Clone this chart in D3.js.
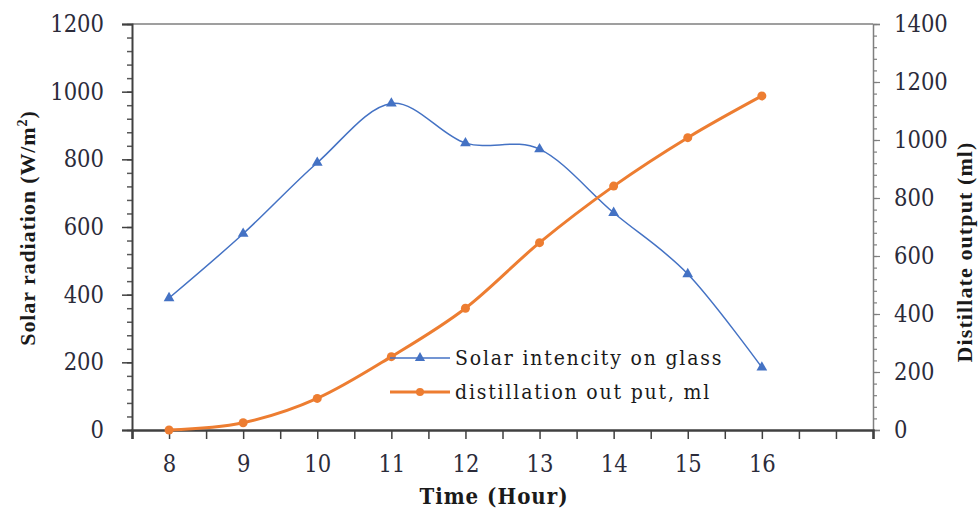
<!DOCTYPE html>
<html>
<head>
<meta charset="utf-8">
<script src="https://cdn.jsdelivr.net/npm/d3@7"></script>
<style>
  body { margin: 0; background: #fff; }
  svg text { font-family: "DejaVu Serif Condensed", "DejaVu Serif", serif; }
</style>
</head>
<body>
<svg id="chart" width="979" height="508"></svg>
<script>
// Values.
const hours = [8, 9, 10, 11, 12, 13, 14, 15, 16];
const solar = [390, 580, 790, 965, 848, 830, 642, 461, 185];      // W/m2, left axis
const distillate = [0, 25, 109, 253, 420, 646, 841, 1008, 1152];  // ml, right axis
const leftTicks = [0, 200, 400, 600, 800, 1000, 1200];
const rightTicks = [0, 200, 400, 600, 800, 1000, 1200, 1400];
const seriesNames = ['Solar intencity on glass', 'distillation out put, ml'];

const svg = d3.select('#chart');
const plot = {left: 132, right: 873, top: 24, bottom: 430};

const x = d3.scaleLinear().domain([7.5, 17.5]).range([plot.left, plot.right]);
const yL = d3.scaleLinear().domain([0, 1200]).range([plot.bottom, plot.top]);
const yR = d3.scaleLinear().domain([0, 1400]).range([plot.bottom, plot.top]);

const blue = '#4472c4';
const orange = '#ed7d31';
const labelColor = '#2b2b3a';
const tickFont = '"DejaVu Serif Condensed", "DejaVu Serif", serif';
const titleFont = '"Liberation Serif", "Times New Roman", serif';

function styleLabels(g) {
  g.selectAll('text')
    .style('font-family', tickFont)
    .attr('font-size', 23.5).attr('fill', labelColor);
}

// plot frame: top line
svg.append('line')
  .attr('x1', plot.left).attr('x2', plot.right)
  .attr('y1', plot.top).attr('y2', plot.top)
  .attr('stroke', '#7f7f7f').attr('stroke-width', 1.5);

// Left axis: major ticks every 200, minor every 40
const leftAxis = svg.append('g').attr('transform', `translate(${plot.left},0)`);
leftAxis.append('g')
  .call(d3.axisLeft(yL).tickValues(d3.range(0, 1201, 40)).tickSize(5).tickFormat(''))
  .call(g => g.select('.domain').remove())
  .selectAll('line').attr('stroke', '#595959').attr('stroke-width', 1.5);
leftAxis.append('g')
  .call(d3.axisLeft(yL).tickValues(leftTicks).tickSize(10).tickPadding(18)
    .tickFormat(d3.format('d')))
  .call(g => g.select('.domain').attr('stroke', '#404040').attr('stroke-width', 2))
  .call(g => g.selectAll('line').attr('stroke', '#404040').attr('stroke-width', 1.5))
  .call(styleLabels);

// Right axis: major ticks every 200, minor every 40
const rightAxis = svg.append('g').attr('transform', `translate(${plot.right},0)`);
rightAxis.append('g')
  .call(d3.axisRight(yR).tickValues(d3.range(0, 1401, 40)).tickSize(4).tickFormat(''))
  .call(g => g.select('.domain').remove())
  .selectAll('line').attr('stroke', '#7f7f7f').attr('stroke-width', 1.2);
rightAxis.append('g')
  .call(d3.axisRight(yR).tickValues(rightTicks).tickSize(7).tickPadding(14)
    .tickFormat(d3.format('d')))
  .call(g => g.select('.domain').attr('stroke', '#7f7f7f').attr('stroke-width', 1.5))
  .call(g => g.selectAll('line').attr('stroke', '#7f7f7f').attr('stroke-width', 1.2))
  .call(styleLabels);

// Bottom axis: ticks every half hour, labels on the hours with data
svg.append('g')
  .attr('transform', `translate(0,${plot.bottom})`)
  .call(d3.axisBottom(x).tickValues(d3.range(7.5, 17.51, 0.5)).tickSize(9).tickPadding(16)
    .tickFormat(d => hours.includes(d) ? d : ''))
  .call(g => g.select('.domain').attr('stroke', '#404040').attr('stroke-width', 2.5))
  .call(g => g.selectAll('line').attr('stroke', '#404040').attr('stroke-width', 1.5))
  .call(styleLabels);

// Axis titles
svg.append('text')
  .attr('x', 494).attr('y', 504)
  .attr('text-anchor', 'middle')
  .style('font-family', tickFont)
  .attr('font-size', 22).attr('font-weight', 'bold').attr('letter-spacing', 1)
  .attr('fill', '#1a1a1a')
  .text('Time (Hour)');

const leftTitle = svg.append('text')
  .attr('transform', 'translate(35,228) rotate(-90)')
  .attr('text-anchor', 'middle')
  .style('font-family', titleFont)
  .attr('font-size', 22).attr('font-weight', 'bold').attr('letter-spacing', 0.9)
  .attr('fill', '#1a1a1a');
leftTitle.append('tspan').text('Solar radiation (W/m');
leftTitle.append('tspan').attr('dy', -8).attr('font-size', 14).text('2');
leftTitle.append('tspan').attr('dy', 8).text(')');

svg.append('text')
  .attr('transform', 'translate(972,252) rotate(-90)')
  .attr('text-anchor', 'middle')
  .style('font-family', titleFont)
  .attr('font-size', 22).attr('font-weight', 'bold').attr('letter-spacing', 1.1)
  .attr('fill', '#1a1a1a')
  .text('Distillate output  (ml)');

// Series lines (smoothed like the spreadsheet)
const solarLine = d3.line()
  .x((d, i) => x(hours[i])).y(d => yL(d))
  .curve(d3.curveCatmullRom.alpha(0));
const distLine = d3.line()
  .x((d, i) => x(hours[i])).y(d => yR(d))
  .curve(d3.curveCatmullRom.alpha(0));

svg.append('path').datum(solar)
  .attr('d', solarLine)
  .attr('fill', 'none').attr('stroke', blue).attr('stroke-width', 1.5);
svg.append('g').selectAll('path').data(solar).join('path')
  .attr('transform', (d, i) => `translate(${x(hours[i])},${yL(d)})`)
  .attr('d', d3.symbol(d3.symbolTriangle, 50))
  .attr('fill', blue);

svg.append('path').datum(distillate)
  .attr('d', distLine)
  .attr('fill', 'none').attr('stroke', orange).attr('stroke-width', 3);
svg.append('g').selectAll('circle').data(distillate).join('circle')
  .attr('cx', (d, i) => x(hours[i])).attr('cy', d => yR(d))
  .attr('r', 4.5).attr('fill', orange);

// Legend, drawn over the plot with no background box
const legend = svg.append('g').attr('transform', 'translate(390,358)');
const rows = legend.selectAll('g.row').data(seriesNames).join('g')
  .attr('class', 'row')
  .attr('transform', (d, i) => `translate(0,${i * 34})`);
rows.append('line')
  .attr('x1', 0).attr('x2', 60)
  .attr('stroke', (d, i) => i ? orange : blue)
  .attr('stroke-width', (d, i) => i ? 3 : 1.5);
rows.each(function(d, i) {
  const g = d3.select(this);
  if (i) g.append('circle').attr('cx', 30).attr('r', 4).attr('fill', orange);
  else g.append('path').attr('transform', 'translate(30,0)')
    .attr('d', d3.symbol(d3.symbolTriangle, 45)).attr('fill', blue);
});
rows.append('text')
  .attr('x', 65).attr('dy', '0.35em')
  .attr('font-size', 21).attr('letter-spacing', 1.8).attr('fill', '#1a1a1a')
  .text(d => d);
</script>
</body>
</html>
